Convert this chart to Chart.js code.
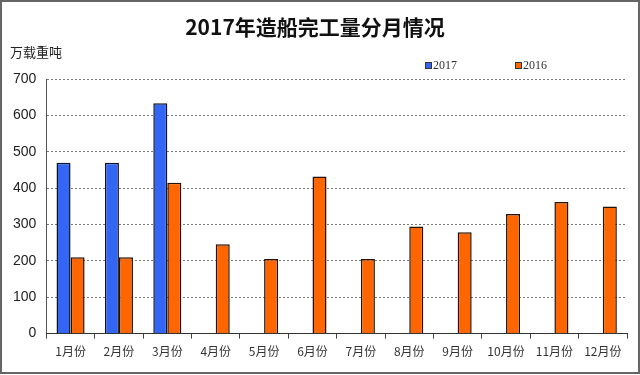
<!DOCTYPE html>
<html>
<head>
<meta charset="utf-8">
<script src="https://cdn.jsdelivr.net/npm/chart.js@4.4.0/dist/chart.umd.min.js"></script>
<style>
    body { margin: 0; background: #fff; }
    #wrap { width: 640px; height: 375px; }
</style>
</head>
<body>
<div id="wrap"><canvas id="chart" width="640" height="375"></canvas></div>
<script>
const months = ['1月份', '2月份', '3月份', '4月份', '5月份', '6月份', '7月份', '8月份', '9月份', '10月份', '11月份', '12月份'];
const values2017 = [470, 470, 634, null, null, null, null, null, null, null, null, null];
const values2016 = [210, 210, 415, 246, 205, 432, 205, 295, 279, 329, 362, 350];
const yTicks = [0, 100, 200, 300, 400, 500, 600, 700];

const CJK = '"Noto Sans CJK SC", "DejaVu Sans", sans-serif';

// frame, unit caption and legend drawn on top
const extras = {
    id: 'extras',
    afterDraw(chart) {
        const ctx = chart.ctx;
        ctx.save();
        ctx.strokeStyle = '#666';
        ctx.lineWidth = 2;
        ctx.strokeRect(1, 1, chart.width - 2, chart.height - 3);

        ctx.fillStyle = '#222';
        ctx.font = '13px ' + CJK;
        ctx.textBaseline = 'middle';
        ctx.fillText('万载重吨', 10, 52);

        const legendX = [425, 515];
        chart.data.datasets.forEach((ds, i) => {
            const x = legendX[i];
            ctx.fillStyle = ds.backgroundColor;
            ctx.fillRect(x, 62, 6, 6);
            ctx.strokeStyle = '#333';
            ctx.lineWidth = 1;
            ctx.strokeRect(x + 0.5, 62.5, 6, 6);
            ctx.fillStyle = '#333';
            ctx.font = '12px "Liberation Serif", serif';
            ctx.fillText(ds.label, x + 8, 65.5);
        });
        ctx.restore();
    }
};

new Chart(document.getElementById('chart'), {
    type: 'bar',
    data: {
        labels: months,
        datasets: [
            {
                label: '2017',
                data: values2017,
                backgroundColor: '#3366F5',
                borderColor: '#111122',
                borderWidth: 1.5,
                borderSkipped: 'bottom'
            },
            {
                label: '2016',
                data: values2016,
                backgroundColor: '#FF6600',
                borderColor: '#221108',
                borderWidth: 1.5,
                borderSkipped: 'bottom'
            }
        ]
    },
    options: {
        responsive: false,
        animation: false,
        layout: { padding: { left: 3, right: 13, top: 14, bottom: 10 } },
        datasets: { bar: { categoryPercentage: 0.58, barPercentage: 1 } },
        plugins: {
            legend: { display: false },
            tooltip: { enabled: false },
            title: {
                display: true,
                text: '2017年造船完工量分月情况',
                color: '#111',
                font: { size: 21, weight: 'bold', family: CJK },
                padding: { top: 0, bottom: 40 }
            }
        },
        scales: {
            y: {
                min: 0,
                max: 700,
                afterBuildTicks: (axis) => { axis.ticks = yTicks.map(v => ({ value: v })); },
                ticks: { color: '#222', font: { size: 14, family: 'Arial, "Liberation Sans", sans-serif' }, padding: 10 },
                grid: { color: '#777', drawTicks: false },
                border: { display: true, color: '#555', dash: [2, 2] }
            },
            x: {
                ticks: { color: '#333', font: { size: 12, family: CJK }, padding: 6, maxRotation: 0, autoSkip: false },
                grid: { drawOnChartArea: false, drawTicks: true, tickLength: 5, color: '#444', offset: true },
                border: { color: '#333', width: 1 }
            }
        }
    },
    plugins: [extras]
});
</script>
</body>
</html>
